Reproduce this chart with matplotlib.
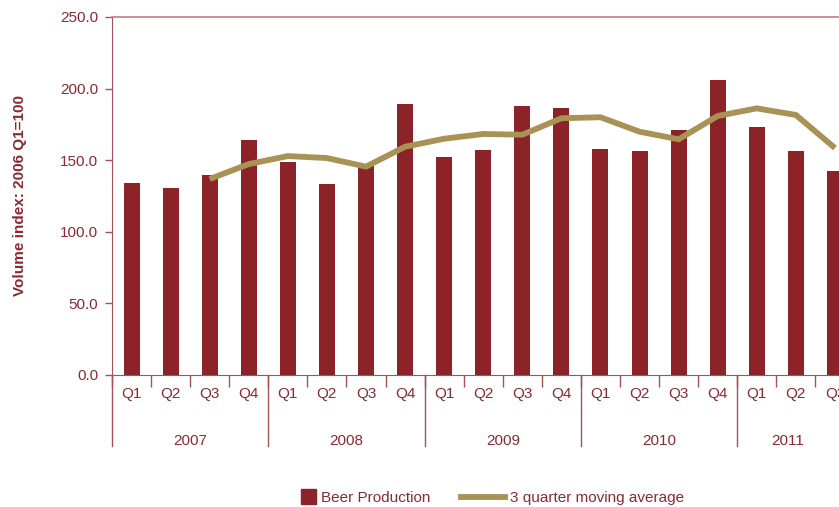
import numpy as np
import matplotlib.pyplot as plt
import matplotlib.patches as mpatches
from matplotlib.lines import Line2D
from matplotlib.legend_handler import HandlerPatch
from matplotlib.transforms import blended_transform_factory

plt.rcParams['font.family'] = ['Liberation Sans', 'DejaVu Sans']

years = ['2007', '2008', '2009', '2010', '2011']
quarters = ['Q1', 'Q2', 'Q3', 'Q4'] * 4 + ['Q1', 'Q2', 'Q3']
beer = [134.1, 130.6, 139.7, 164.1,
        148.7, 133.4, 146.0, 189.2,
        152.2, 157.1, 187.8, 186.5,
        157.8, 156.4, 171.1, 206.0,
        173.2, 156.4, 142.5]
# 3 quarter moving average, first two quarters have no value
moving_avg = [np.nan, np.nan, 136.9, 147.3,
              152.9, 151.5, 145.5, 159.4,
              165.0, 168.3, 167.8, 179.3,
              180.0, 169.9, 164.6, 180.9,
              186.2, 181.6, 158.5]

bar_color = '#8b2329'
line_color = '#a89256'
text_color = '#8b2a30'
axis_color = '#a3525b'

fig = plt.figure(figsize=(8.39, 5.07), dpi=100)
ax = fig.add_axes([112 / 839, 132 / 507, 742.5 / 839, 358 / 507])

x = np.arange(len(beer))
ax.bar(x, beer, width=0.41, color=bar_color, zorder=2)
ax.plot(x, moving_avg, color=line_color, lw=4.2, zorder=3, solid_capstyle='butt')

ax.set_xlim(-0.5, len(beer) - 0.5)
ax.set_ylim(0, 250)
ax.set_yticks(np.arange(0, 251, 50))
ax.set_yticklabels([f'{v:.1f}' for v in np.arange(0, 251, 50)])
ax.tick_params(axis='y', direction='out', length=5, width=1, color=axis_color,
               labelcolor=text_color, labelsize=11, pad=5)

ax.set_xticks(x)
ax.set_xticklabels(quarters)
ax.set_xticks(np.arange(-0.5, len(beer)), minor=True)
ax.tick_params(axis='x', which='major', length=0, labelcolor=text_color, labelsize=11, pad=8.5)
ax.tick_params(axis='x', which='minor', direction='out', length=8.6, width=1, color=axis_color)

ax.spines['right'].set_visible(False)
ax.spines['left'].set_color(axis_color)
ax.spines['bottom'].set_color(axis_color)
ax.spines['top'].set_color('#c4898e')
ax.spines['top'].set_linewidth(1.3)

# year separators and year labels below the quarter labels
trans = blended_transform_factory(ax.transData, ax.transAxes)
for b in np.arange(-0.5, len(beer), 4):
    ax.plot([b, b], [0, -0.198], color=axis_color, lw=1, transform=trans, clip_on=False)
visible_right = (839 - 112) / 39.08 - 0.5
for i, yr in enumerate(years):
    lo = i * 4 - 0.5
    hi = min(lo + 4, visible_right)
    ax.text((lo + hi) / 2, -0.184, yr, transform=trans, ha='center', va='center',
            color=text_color, fontsize=11)

ax.set_ylabel('Volume index: 2006 Q1=100', color=text_color, fontsize=11,
              fontweight='bold', labelpad=24)


def square_patch(legend, orig_handle, xdescent, ydescent, width, height, fontsize):
    s = 11
    return mpatches.Rectangle((width - s - xdescent, height / 2 - s / 2 - ydescent), s, s)


handles = [mpatches.Patch(color=bar_color), Line2D([], [], color=line_color, lw=4.2)]
fig.legend(handles, ['Beer Production', '3 quarter moving average'],
           loc='center', bbox_to_anchor=(478 / 839, 9 / 507), ncol=2, frameon=False,
           fontsize=11, labelcolor=text_color, handlelength=2.9, handletextpad=0.3,
           columnspacing=2.0,
           handler_map={mpatches.Patch: HandlerPatch(patch_func=square_patch)})

fig.savefig('out.png', dpi=100)
